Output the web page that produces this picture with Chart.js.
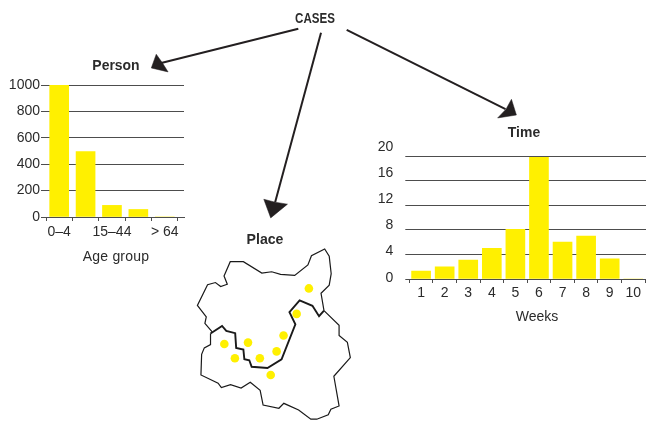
<!DOCTYPE html>
<html><head><meta charset="utf-8">
<script src="https://cdn.jsdelivr.net/npm/chart.js@4"></script>
<style>
html,body{margin:0;padding:0;background:#fff;width:646px;height:424px;overflow:hidden}
canvas{position:absolute;left:0;top:0}
.t{position:absolute;transform:translate(-50%,-50%);white-space:nowrap;color:#2b2b2b;font-family:"Liberation Sans";font-size:14px;line-height:1}
.b{font-weight:bold;font-size:15px}
</style></head><body>
<canvas id="person" width="646" height="424"></canvas>
<canvas id="time" width="650" height="424"></canvas>
<canvas id="overlay" width="646" height="424"></canvas>
<div class="t b" style="left:315px;top:17px;transform:translate(-50%,-50%) scaleX(.77)">CASES</div>
<div class="t b" style="left:116px;top:64px;transform:translate(-50%,-50%) scaleX(.93)">Person</div>
<div class="t b" style="left:265px;top:238px;transform:translate(-50%,-50%) scaleX(.94)">Place</div>
<div class="t b" style="left:524px;top:131px;transform:translate(-50%,-50%) scaleX(.93)">Time</div>
<div class="t" style="left:116px;top:256px;letter-spacing:.2px">Age group</div>
<div class="t" style="left:537px;top:316px">Weeks</div>
<script>
const ageGroups = ['0–4', '', '15–44', '', '> 64'];
const personCases = [1000, 495, 88, 57, 0];
const personTicks = [0, 200, 400, 600, 800, 1000];
const weeks = ['1', '2', '3', '4', '5', '6', '7', '8', '9', '10'];
const timeCases = [1.3, 2, 3.1, 5, 8.1, 19.8, 6, 7, 3.3, 0];
const timeTicks = [0, 4, 8, 12, 16, 20];

const regionNorth = [[210.7,334.3],[203.3,325.7],[204.7,319],[195.7,307.3],[206,286.3],[214,284],[219.3,288],[226,285.7],[222.7,277.3],[229,262.7],[242.3,262.7],[261,274.3],[271,273],[280,275.7],[294.3,276.7],[307.7,266],[311.3,256.7],[324.7,249.7],[329.3,257],[331.3,275],[329.3,286.7],[321,295],[324,312.7]];
const regionSouth = [[324,312.7],[339.3,327.7],[339.3,338],[347.7,345],[350.7,360.7],[334,379.7],[339.3,410],[331,413.3],[328.3,419],[316.7,423.5],[310.7,423.5],[298.3,414],[283.3,407.3],[278.3,412.3],[262.3,409],[259.3,394],[249.3,385.7],[240,391.7],[229.3,388.3],[220,391.3],[216.7,386.7],[199.3,378.3],[200,357.3],[202.7,350.7],[209,347.3],[209,336]];
const border = [[209,336],[220.7,328.3],[225,333.3],[234,335.7],[235,350.7],[242.3,352.3],[243.3,362.3],[248.3,363.3],[250.7,370],[266.7,371.3],[281,362.3],[295,326.7],[289,314.3],[299.3,302.3],[312.3,307.7],[319,318.3],[324,312.7]];
const casePoints = [[223,346.7],[233.7,361.3],[247,345.3],[259,361.3],[276,354.3],[283,338],[296.3,316],[308.7,290],[270,378.3]];
const arrowShafts = [[[298,25],[159,60]],[[321,29],[274.5,202]],[[347,26],[508,107]]];
const arrowHeads = [
  [[149,65],[154,51],[160,59.5],[166,69],[149,65]],
  [[270,218],[263,199],[274.5,202],[287,204],[270,218]],
  [[519,113],[514,97],[508.5,107],[500,116],[519,113]]
];

const FONT = {family:'"Liberation Sans"', size:14};
const INK = '#2b2b2b', GRID = '#4d4d4d', YELLOW = '#fff000';
const xy = a => a.map(p => ({x:p[0], y:p[1]}));

function bandTicks(n){
  const t = [];
  for (let i = 0; i < n; i++) t.push({value:i-0.5}, {value:i});
  t.push({value:n-0.5});
  return t;
}
function xAxis(labels, xMax, h, pad){
  return {
    type:'linear', min:-0.5, max:xMax, offset:false,
    afterBuildTicks:s => { s.ticks = bandTicks(labels.length); },
    afterFit:s => { s.height = h; },
    border:{color:GRID, width:1},
    grid:{offset:false, drawOnChartArea:false, tickLength:4, lineWidth:1,
      color:c => (c.tick && Number.isInteger(c.tick.value)) ? 'rgba(0,0,0,0)' : GRID},
    ticks:{autoSkip:false, maxRotation:0, minRotation:0, font:FONT, color:INK, padding:pad,
      callback:v => Number.isInteger(v) ? labels[v] : ''}
  };
}
const base = {responsive:false, animation:false, devicePixelRatio:1,
  plugins:{legend:{display:false}, tooltip:{enabled:false}, title:{display:false}}};

new Chart(document.getElementById('person'), {
  type:'bar',
  data:{labels:ageGroups, datasets:[{data:personCases.map((y,i)=>({x:i,y})), backgroundColor:YELLOW, barThickness:19}]},
  options:{...base,
    layout:{padding:{left:0, right:462, top:85, bottom:187}},
    scales:{
      x:xAxis(ageGroups, 4.73, 20, 3),
      y:{min:0, max:1000,
        afterBuildTicks:s => { s.ticks = personTicks.map(value=>({value})); },
        afterFit:s => { s.width = 46; },
        border:{display:false},
        grid:{color:GRID, lineWidth:1, tickLength:5},
        ticks:{font:FONT, color:INK, padding:1, callback:v => String(v)}}
    }}
});

new Chart(document.getElementById('time'), {
  type:'bar',
  data:{labels:weeks, datasets:[{data:timeCases.map((y,i)=>({x:i,y})), backgroundColor:YELLOW, barThickness:19, yAxisID:'y'}]},
  options:{...base,
    layout:{padding:{left:0, right:4, top:147, bottom:125}},
    scales:{
      x:xAxis(weeks, 9.54, 20, 2),
      y:{min:0, max:21.5, weight:0,
        afterBuildTicks:s => { s.ticks = timeTicks.map(value=>({value})); },
        afterFit:s => { s.width = 4; },
        border:{display:false},
        grid:{color:GRID, lineWidth:1, tickLength:4},
        ticks:{display:false}},
      yLabels:{position:'left', min:-0.2, max:20, weight:1,
        afterBuildTicks:s => { s.ticks = timeTicks.map(value=>({value})); },
        afterFit:s => { s.width = 405.3; },
        border:{display:false},
        grid:{display:false},
        ticks:{font:FONT, color:INK, padding:4, callback:v => String(v)}}
    }}
});

const stroke = (pts, w) => ({type:'scatter', data:xy(pts), showLine:true, borderColor:'#1a1a1a', borderWidth:w, pointRadius:0, fill:false, tension:0, clip:false});
const head = pts => ({type:'scatter', data:xy(pts), showLine:true, borderColor:'#231f20', borderWidth:0.5, backgroundColor:'#231f20', pointRadius:0, fill:'shape', tension:0, clip:false});

new Chart(document.getElementById('overlay'), {
  type:'scatter',
  data:{datasets:[
    stroke(regionNorth,1.2), stroke(regionSouth,1.2), stroke(border,1.9),
    {type:'scatter', data:xy(casePoints), backgroundColor:YELLOW, borderWidth:0, pointRadius:4.3, pointStyle:'circle', clip:false},
    ...arrowShafts.map(s=>({...stroke(s,2), borderColor:'#231f20'})),
    ...arrowHeads.map(head)
  ]},
  options:{...base,
    layout:{padding:0},
    events:[],
    scales:{
      x:{type:'linear', min:0, max:646, display:false},
      y:{type:'linear', min:0, max:424, reverse:true, display:false}
    }}
});
</script>
</body></html>
